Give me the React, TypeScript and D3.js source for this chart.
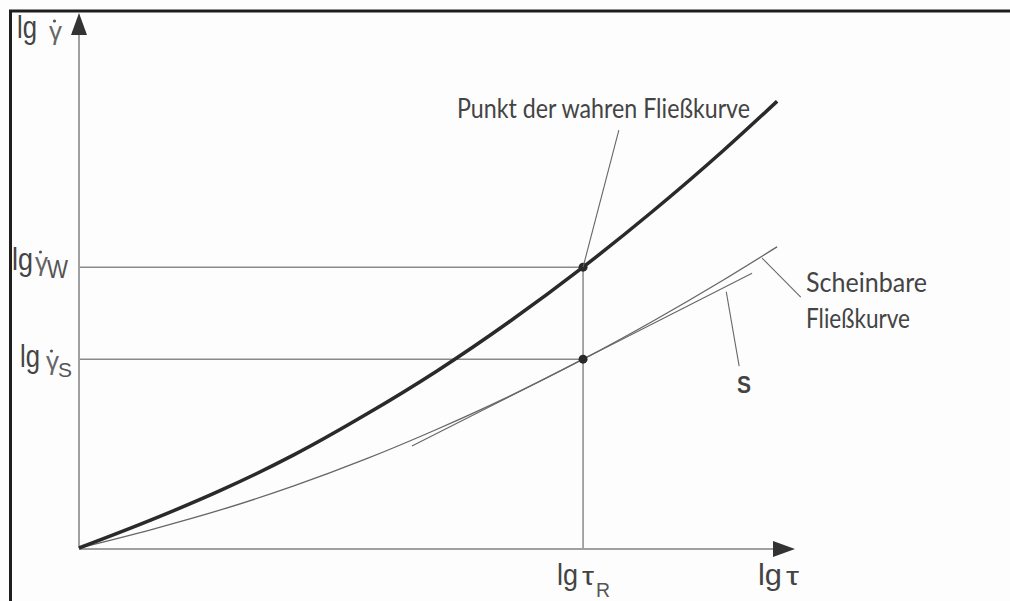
import * as d3 from 'd3';

// lg tau positions (0..100) where the curves were sampled
const tauSamples = [0, 10, 20, 30, 40, 50, 60, 70.4, 80, 90, 97.5];
// true flow curve (thick)
const trueCurve = [0, 5.2, 10.9, 17.4, 24.9, 33.1, 42.2, 52.5, 62.8, 74.3, 83.5];
// apparent flow curve (thin)
const apparentCurve = [0, 3.4, 7.2, 11.6, 16.6, 22.2, 28.3, 35.3, 42.3, 50.1, 56.3];

const tauR = 70.4;
const gammaW = 52.5;
const gammaS = 35.3;
const tangentSlope = 0.68;
const tangentRange = [46.5, 94.0];

const W = 1010;
const H = 601;
const origin = { x: 79, y: 548 };

const x = d3.scaleLinear().domain([0, 100]).range([origin.x, 795]);
const y = d3.scaleLinear().domain([0, 100]).range([origin.y, 13]);

const line = d3
  .line<[number, number]>()
  .x((d) => x(d[0]))
  .y((d) => y(d[1]))
  .curve(d3.curveMonotoneX);

const labelFont = "'Liberation Sans Narrow', 'Arial Narrow', 'Liberation Sans', sans-serif";
const noteFont = "Lato, 'DejaVu Sans', sans-serif";

// dotted gamma (narrow face so its box stays clear of the subscript)
const GammaDot = ({ gx, gy }: { gx: number; gy: number }) => (
  <g>
    <text x={gx} y={gy} fontFamily={labelFont} fontSize={26} fill="#666">γ</text>
    <circle cx={gx + 5.5} cy={gy - 19} r={1.6} fill="#555" />
  </g>
);

export default function App() {
  const truePts = tauSamples.map((t, i) => [t, trueCurve[i]] as [number, number]);
  const appPts = tauSamples.map((t, i) => [t, apparentCurve[i]] as [number, number]);
  const tangent = tangentRange.map((t) => [t, gammaS + tangentSlope * (t - tauR)] as [number, number]);

  const yTop = y(100);
  const xEnd = x(100);

  return (
    <svg
      width={W}
      height={H}
      style={{ position: 'absolute', left: 0, top: 0, background: '#fdfdfd' }}
    >
      {/* frame */}
      <line x1={9} x2={W} y1={11} y2={11} stroke="#1e1e1e" strokeWidth={3} />
      <line x1={10.5} x2={10.5} y1={10} y2={H} stroke="#1e1e1e" strokeWidth={3} />

      {/* guide lines */}
      <line x1={x(0)} x2={x(tauR)} y1={y(gammaW)} y2={y(gammaW)} stroke="#8a8a8a" strokeWidth={1.5} />
      <line x1={x(0)} x2={x(tauR)} y1={y(gammaS)} y2={y(gammaS)} stroke="#8a8a8a" strokeWidth={1.5} />
      <line x1={x(tauR)} x2={x(tauR)} y1={y(gammaW)} y2={y(0)} stroke="#8a8a8a" strokeWidth={1.5} />

      {/* axes */}
      <line x1={x(0)} x2={x(0)} y1={y(0)} y2={yTop + 18} stroke="#a0a0a0" strokeWidth={2} />
      <path d={`M${x(0)},${yTop} L${x(0) - 8},${yTop + 22} L${x(0) + 8},${yTop + 22} Z`} fill="#333" />
      <line x1={x(0)} x2={xEnd - 18} y1={y(0) + 1} y2={y(0) + 1} stroke="#a0a0a0" strokeWidth={2} />
      <path d={`M${xEnd},${y(0) + 1} L${xEnd - 22},${y(0) - 7} L${xEnd - 22},${y(0) + 9} Z`} fill="#333" />

      {/* curves */}
      <path d={line(appPts) || ''} fill="none" stroke="#666" strokeWidth={1.3} />
      <path d={line(tangent) || ''} fill="none" stroke="#666" strokeWidth={1.1} />
      <path d={line(truePts) || ''} fill="none" stroke="#2a2a2a" strokeWidth={3.5} />

      {/* points */}
      <circle cx={x(tauR)} cy={y(gammaW)} r={4.5} fill="#2a2a2a" />
      <circle cx={x(tauR)} cy={y(gammaS)} r={4.5} fill="#2a2a2a" />

      {/* leaders */}
      <line x1={x(tauR)} y1={y(gammaW)} x2={x(75.4)} y2={y(78.1)} stroke="#666" strokeWidth={1.1} />
      <line x1={x(95.4)} y1={y(54.2)} x2={x(100.8)} y2={y(46.9)} stroke="#666" strokeWidth={1.1} />
      <line x1={x(90.4)} y1={y(47.9)} x2={x(92.2)} y2={y(34.0)} stroke="#666" strokeWidth={1.1} />

      {/* annotations */}
      <text x={457} y={118} fontFamily={noteFont} fontSize={26} fill="#444" textLength={293} lengthAdjust="spacingAndGlyphs">
        Punkt der wahren Fließkurve
      </text>
      <text x={806} y={292} fontFamily={noteFont} fontSize={27} fill="#444" textLength={121} lengthAdjust="spacingAndGlyphs">
        Scheinbare
      </text>
      <text x={806} y={328} fontFamily={noteFont} fontSize={27} fill="#444" textLength={104} lengthAdjust="spacingAndGlyphs">
        Fließkurve
      </text>
      <text x={737} y={393} fontFamily={labelFont} fontSize={23} fontWeight="bold" fill="#444" textLength={14} lengthAdjust="spacingAndGlyphs">
        S
      </text>

      {/* y axis labels */}
      <text x={17} y={38} fontFamily={labelFont} fontSize={31} fill="#444" textLength={20} lengthAdjust="spacingAndGlyphs">lg</text>
      <GammaDot gx={49} gy={40} />

      <text x={12} y={270} fontFamily={labelFont} fontSize={31} fill="#444" textLength={21} lengthAdjust="spacingAndGlyphs">lg</text>
      <GammaDot gx={35} gy={271} />
      <text x={47} y={278} fontFamily={labelFont} fontSize={26} fill="#555" textLength={21} lengthAdjust="spacingAndGlyphs">W</text>

      <text x={20} y={367} fontFamily={labelFont} fontSize={31} fill="#444" textLength={20} lengthAdjust="spacingAndGlyphs">lg</text>
      <GammaDot gx={46} gy={370} />
      <text x={58} y={377} fontFamily={labelFont} fontSize={21} fill="#555" textLength={14} lengthAdjust="spacingAndGlyphs">S</text>

      {/* x axis labels */}
      <text x={557} y={585} fontFamily={labelFont} fontSize={30} fill="#444" textLength={21} lengthAdjust="spacingAndGlyphs">lg</text>
      <text x={582} y={585} fontFamily={labelFont} fontSize={26} fill="#444">
        <tspan textLength={12} lengthAdjust="spacingAndGlyphs">τ</tspan>
        <tspan x={596} dy={12} fontSize={21} fill="#555" textLength={14} lengthAdjust="spacingAndGlyphs">R</tspan>
      </text>

      <text x={758} y={585} fontFamily={labelFont} fontSize={30} fill="#444" textLength={24} lengthAdjust="spacingAndGlyphs">lg</text>
      <text x={786} y={585} fontFamily={labelFont} fontSize={26} fill="#444" textLength={13} lengthAdjust="spacingAndGlyphs">τ</text>
    </svg>
  );
}
